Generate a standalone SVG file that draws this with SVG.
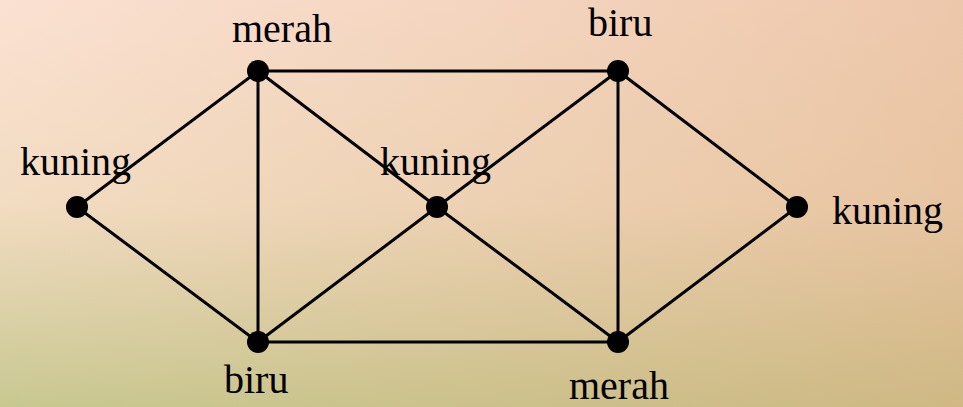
<svg xmlns="http://www.w3.org/2000/svg" width="963" height="407" viewBox="0 0 963 407">
<defs>
<linearGradient id="bgV" x1="0" y1="0" x2="0" y2="1">
<stop offset="0" stop-color="#fbe1d2"/>
<stop offset="0.5" stop-color="#f2dcc2"/>
<stop offset="1" stop-color="#c8c891"/>
</linearGradient>
<linearGradient id="bgH" x1="0" y1="0" x2="1" y2="0">
<stop offset="0" stop-color="#d9a878" stop-opacity="0"/>
<stop offset="1" stop-color="#d9a070" stop-opacity="0.4"/>
</linearGradient>
<style>
.e{stroke:#000;stroke-width:3;fill:none}
.n{fill:#000}
.t{font-family:"Liberation Serif","Times New Roman",serif;font-size:40px;fill:#000}
</style>
</defs>
<rect width="963" height="407" fill="url(#bgV)"/>
<rect width="963" height="407" fill="url(#bgH)"/>
<g id="edges">
<line class="e" x1="258" y1="71" x2="618" y2="71"/>
<line class="e" x1="258" y1="342" x2="618" y2="342"/>
<line class="e" x1="258" y1="71" x2="258" y2="342"/>
<line class="e" x1="618" y1="71" x2="618" y2="342"/>
<line class="e" x1="77" y1="207" x2="258" y2="71"/>
<line class="e" x1="77" y1="207" x2="258" y2="342"/>
<line class="e" x1="258" y1="71" x2="437" y2="207"/>
<line class="e" x1="258" y1="342" x2="437" y2="207"/>
<line class="e" x1="618" y1="71" x2="437" y2="207"/>
<line class="e" x1="618" y1="342" x2="437" y2="207"/>
<line class="e" x1="618" y1="71" x2="797" y2="207"/>
<line class="e" x1="618" y1="342" x2="797" y2="207"/>
</g>
<g id="n1"><circle class="n" cx="258" cy="71" r="11"/><text class="t" x="232" y="42">merah</text></g>
<g id="n2"><circle class="n" cx="618" cy="71" r="11"/><text class="t" x="588" y="36">biru</text></g>
<g id="n3"><circle class="n" cx="77" cy="207" r="11"/><text class="t" x="20" y="175">kuning</text></g>
<g id="n4"><circle class="n" cx="437" cy="207" r="11"/><text class="t" x="380" y="175">kuning</text></g>
<g id="n5"><circle class="n" cx="797" cy="207" r="11"/><text class="t" x="832" y="224">kuning</text></g>
<g id="n6"><circle class="n" cx="258" cy="342" r="11"/><text class="t" x="224" y="393">biru</text></g>
<g id="n7"><circle class="n" cx="618" cy="342" r="11"/><text class="t" x="569" y="399">merah</text></g>
</svg>
